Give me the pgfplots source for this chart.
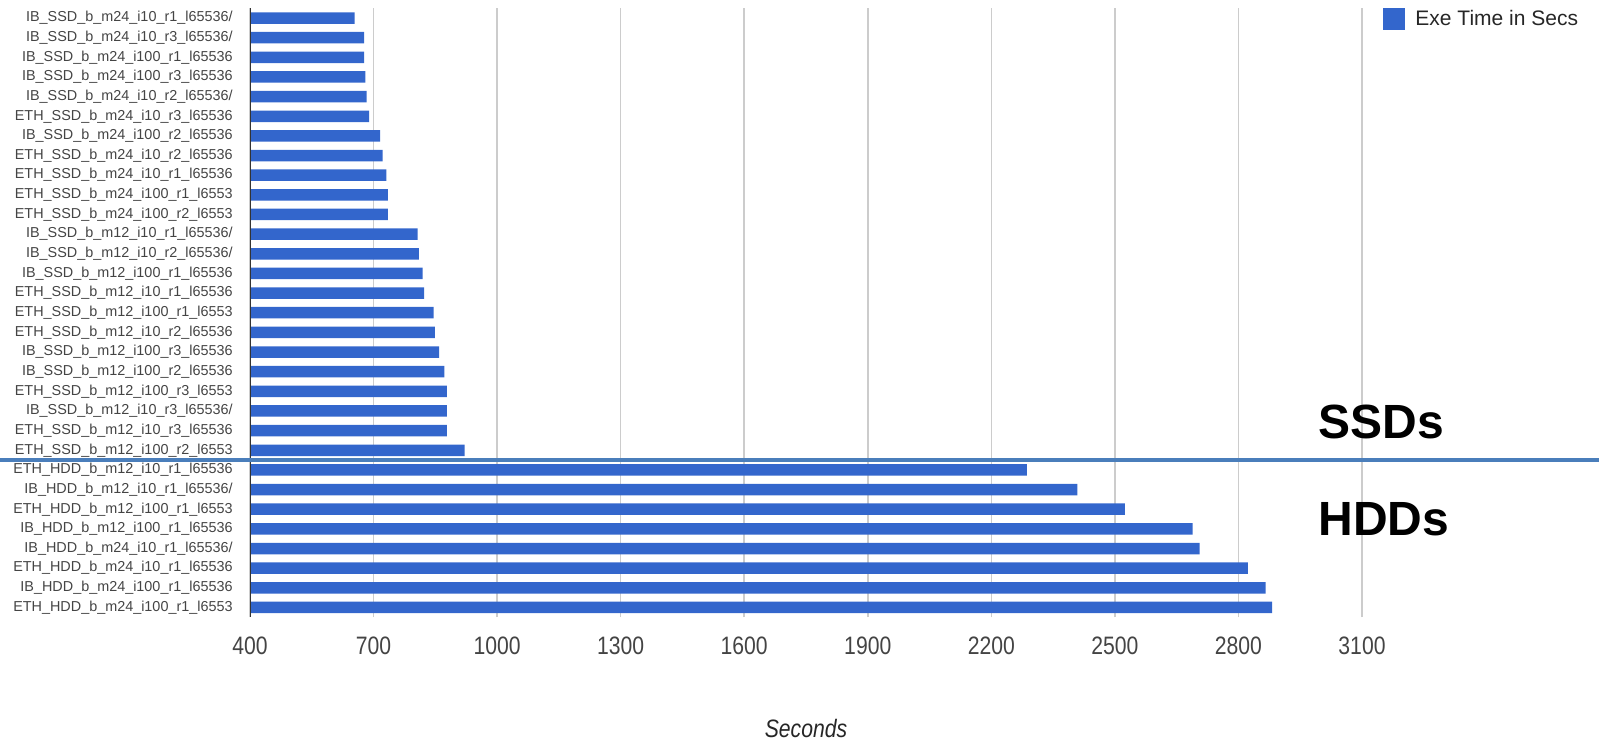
\documentclass[border=0pt]{standalone}
\usepackage{fontspec}
\setmainfont{Liberation Sans}
\newfontfamily\condfont[FakeStretch=0.84]{Liberation Sans}
\usepackage{pgfplots}
\pgfplotsset{compat=1.18}
\definecolor{barblue}{HTML}{3366CC}
\definecolor{sepblue}{HTML}{4A7EBB}
\definecolor{gridgray}{HTML}{CCCCCC}
\definecolor{labelgray}{HTML}{444444}
\begin{document}
\begin{tikzpicture}
\begin{axis}[
  at={(125pt,62.35pt)}, anchor=south west,
  width=556pt, height=304.55pt, scale only axis,
  xbar, bar width=5.75pt,
  xmin=400, xmax=3100,
  ymin=0.5, ymax=31.5,
  xtick={400,700,...,3100},
  ytick={1,...,31},
  yticklabels={ETH\_HDD\_b\_m24\_i100\_r1\_l6553,
IB\_HDD\_b\_m24\_i100\_r1\_l65536,
ETH\_HDD\_b\_m24\_i10\_r1\_l65536,
IB\_HDD\_b\_m24\_i10\_r1\_l65536/,
IB\_HDD\_b\_m12\_i100\_r1\_l65536,
ETH\_HDD\_b\_m12\_i100\_r1\_l6553,
IB\_HDD\_b\_m12\_i10\_r1\_l65536/,
ETH\_HDD\_b\_m12\_i10\_r1\_l65536,
ETH\_SSD\_b\_m12\_i100\_r2\_l6553,
ETH\_SSD\_b\_m12\_i10\_r3\_l65536,
IB\_SSD\_b\_m12\_i10\_r3\_l65536/,
ETH\_SSD\_b\_m12\_i100\_r3\_l6553,
IB\_SSD\_b\_m12\_i100\_r2\_l65536,
IB\_SSD\_b\_m12\_i100\_r3\_l65536,
ETH\_SSD\_b\_m12\_i10\_r2\_l65536,
ETH\_SSD\_b\_m12\_i100\_r1\_l6553,
ETH\_SSD\_b\_m12\_i10\_r1\_l65536,
IB\_SSD\_b\_m12\_i100\_r1\_l65536,
IB\_SSD\_b\_m12\_i10\_r2\_l65536/,
IB\_SSD\_b\_m12\_i10\_r1\_l65536/,
ETH\_SSD\_b\_m24\_i100\_r2\_l6553,
ETH\_SSD\_b\_m24\_i100\_r1\_l6553,
ETH\_SSD\_b\_m24\_i10\_r1\_l65536,
ETH\_SSD\_b\_m24\_i10\_r2\_l65536,
IB\_SSD\_b\_m24\_i100\_r2\_l65536,
ETH\_SSD\_b\_m24\_i10\_r3\_l65536,
IB\_SSD\_b\_m24\_i10\_r2\_l65536/,
IB\_SSD\_b\_m24\_i100\_r3\_l65536,
IB\_SSD\_b\_m24\_i100\_r1\_l65536,
IB\_SSD\_b\_m24\_i10\_r3\_l65536/,
IB\_SSD\_b\_m24\_i10\_r1\_l65536/},
  major tick length=0pt,
  xmajorgrids, grid style={gridgray, line width=0.75pt},
  axis line style={draw=none},
  /pgf/number format/assume math mode=true,
  /pgf/number format/1000 sep={},
  xticklabel style={font=\condfont\fontsize{12.6pt}{14pt}\selectfont, text=labelgray, inner sep=0pt, anchor=north, yshift=-9.5pt},
  yticklabel style={font=\fontsize{7.2pt}{8pt}\selectfont, text=labelgray, inner sep=0pt, anchor=east, xshift=-8.5pt},
  xlabel={\textit{Seconds}},
  xlabel style={at={(axis description cs:0.5,0)}, anchor=center, yshift=-55.5pt, font=\condfont\fontsize{12.6pt}{14pt}\selectfont, text=black!85},
  legend style={at={(axis description cs:1.0189,0.9823)}, anchor=west, draw=none, fill=none, inner sep=0pt, font=\fontsize{10.5pt}{12pt}\selectfont, text=black!85, nodes={inner sep=0pt}, /tikz/every odd column/.append style={column sep=5pt}},
  legend image code/.code={\fill[barblue] (0pt,-5.5pt) rectangle (11pt,5.5pt);},
]
\addplot[fill=barblue, draw=none] coordinates {
(2882,1)(2866,2)(2823,3)(2706,4)(2689,5)(2524,6)(2409,7)(2286,8)
(921,9)(878,10)(878,11)(878,12)(872,13)(859,14)(849,15)(846,16)
(823,17)(819,18)(810,19)(807,20)(735,21)(735,22)(731,23)(722,24)
(716,25)(689,26)(683,27)(680,28)(677,29)(677,30)(654,31)};
\addlegendentry{Exe Time in Secs}
\draw[black!80, line width=0.75pt] (rel axis cs:0,0) -- (rel axis cs:0,1);
\coordinate (sep) at (axis cs:400,8.5);
\end{axis}
\coordinate (L) at (0pt,0pt);
\coordinate (R) at (799.5pt,0pt);
\draw[sepblue, line width=2pt] (L |- sep) -- (R |- sep);
\node[anchor=base west, font=\fontsize{24pt}{28pt}\selectfont\bfseries, inner sep=0pt] at (659pt,151.5pt) {SSDs};
\node[anchor=base west, font=\fontsize{24pt}{28pt}\selectfont\bfseries, inner sep=0pt] at (659pt,103pt) {HDDs};
\pgfresetboundingbox
\useasboundingbox (0pt,0pt) rectangle (799.5pt,371pt);
\end{tikzpicture}
\end{document}
